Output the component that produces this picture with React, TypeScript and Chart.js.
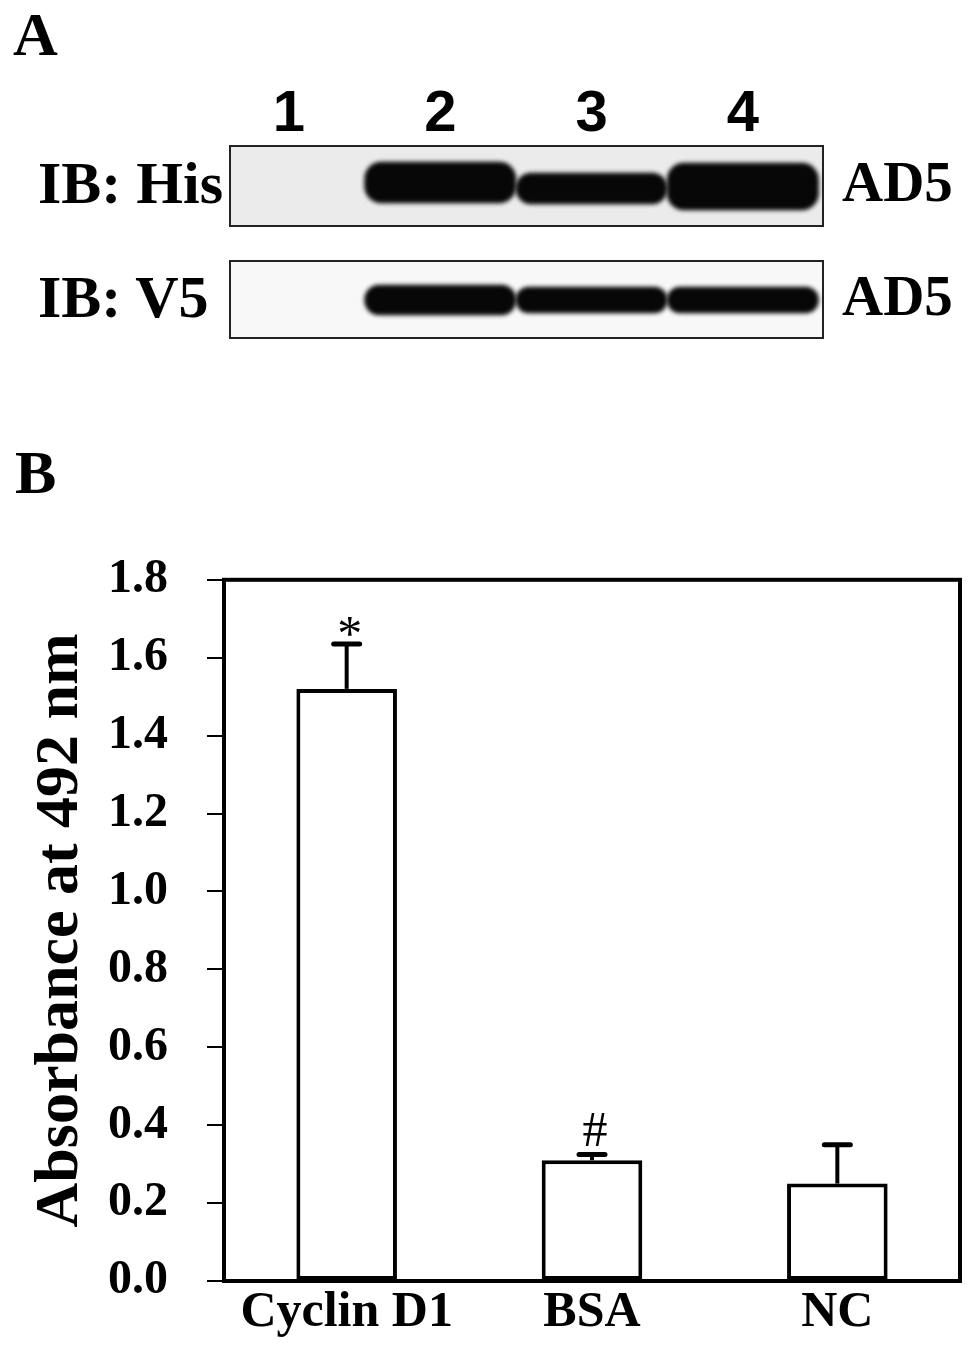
import React, { useEffect, useRef } from "react";
import { Chart, registerables } from "chart.js";

Chart.register(...registerables);

// ---------- Panel B data ----------
const categories = ["Cyclin D1", "BSA", "NC"];
const absorbance = [1.52, 0.31, 0.25];
const absorbanceErr = [0.115, 0.015, 0.1];
const significance = ["*", "#", ""];
const yTickValues = [0, 0.2, 0.4, 0.6, 0.8, 1.0, 1.2, 1.4, 1.6, 1.8];

// ---------- Panel A data (band extents per lane, arbitrary units from box bottom) ----------
const lanes = [1, 2, 3, 4];
const hisBands: (number[] | null)[] = [null, [23, 64], [22, 53], [16, 63]];
const v5Bands: (number[] | null)[] = [null, [23, 53], [25, 51], [25, 51]];

const SERIF = "'Liberation Serif', 'Times New Roman', serif";
const SANS = "'Liberation Sans', Arial, sans-serif";

function blotConfig(
  bands: (number[] | null)[],
  bg: string,
  showLanes: boolean,
  yMax: number,
  padTop: number,
  padBottom: number,
  axisHeight: number
): any {
  const data = lanes
    .map((l, i) => ({ x: l, y: bands[i] }))
    .filter((d) => d.y !== null);
  return {
    type: "bar",
    data: {
      datasets: [
        {
          data,
          backgroundColor: "#070707",
          borderWidth: 0,
          borderRadius: 17,
          borderSkipped: false,
          barPercentage: 1,
          categoryPercentage: 1,
        },
      ],
    },
    options: {
      animation: false,
      responsive: false,
      layout: { padding: { left: 230, right: 146, top: padTop, bottom: padBottom } },
      plugins: {
        legend: { display: false },
        tooltip: { enabled: false },
      },
      scales: {
        x: {
          type: "linear",
          position: "top",
          display: showLanes,
          offset: false,
          min: 0.61,
          max: 4.53,
          grid: { display: false, drawTicks: false, offset: false },
          border: { display: false },
          afterBuildTicks: (s: any) => {
            s.ticks = lanes.map((v) => ({ value: v }));
          },
          afterFit: (s: any) => {
            s.height = axisHeight;
          },
          ticks: {
            autoSkip: false,
            maxRotation: 0,
            color: "#000",
            padding: 2,
            font: { family: SANS, size: 58, weight: "bold", lineHeight: 1 },
            callback: (v: any) => String(v),
          },
        },
        y: { display: false, min: 0, max: yMax },
      },
    },
    plugins: [
      {
        id: "blotBox",
        beforeDraw(chart: any) {
          const { ctx, chartArea: a } = chart;
          ctx.save();
          ctx.fillStyle = bg;
          ctx.fillRect(a.left, a.top, a.right - a.left, a.bottom - a.top);
          ctx.restore();
        },
        beforeDatasetsDraw(chart: any) {
          chart.ctx.save();
          chart.ctx.filter = "blur(2px)";
        },
        afterDatasetsDraw(chart: any) {
          chart.ctx.restore();
        },
        afterDraw(chart: any) {
          const { ctx, chartArea: a } = chart;
          ctx.save();
          ctx.strokeStyle = "#222";
          ctx.lineWidth = 2;
          ctx.strokeRect(a.left, a.top, a.right - a.left, a.bottom - a.top);
          ctx.restore();
        },
      },
    ],
  };
}

function barConfig(): any {
  return {
    type: "bar",
    data: {
      labels: categories,
      datasets: [
        {
          data: absorbance,
          backgroundColor: "#ffffff",
          borderColor: "#000000",
          borderWidth: 4,
          borderSkipped: false,
          barPercentage: 0.41,
          categoryPercentage: 1,
        },
      ],
    },
    options: {
      animation: false,
      responsive: false,
      layout: { padding: { top: 20, right: 9, left: 0, bottom: 0 } },
      plugins: {
        legend: { display: false },
        tooltip: { enabled: false },
      },
      scales: {
        x: {
          offset: true,
          grid: { display: false, drawTicks: false },
          border: { display: false },
          afterFit: (s: any) => {
            s.height = 74;
          },
          ticks: {
            color: "#000",
            padding: 2,
            maxRotation: 0,
            autoSkip: false,
            font: { family: SERIF, size: 50, weight: "bold" },
          },
        },
        y: {
          min: 0,
          max: 1.8,
          afterBuildTicks: (s: any) => {
            s.ticks = yTickValues.map((v) => ({ value: v }));
          },
          afterFit: (s: any) => {
            s.width = 224;
          },
          grid: {
            drawOnChartArea: false,
            drawTicks: true,
            tickLength: 17,
            color: "#000",
            lineWidth: 2,
          },
          border: { display: false },
          ticks: {
            color: "#000",
            padding: 39,
            autoSkip: false,
            font: { family: SERIF, size: 48, weight: "bold" },
            callback: (v: any) => Number(v).toFixed(1),
          },
          title: {
            display: true,
            text: "Absorbance at 492 nm",
            color: "#000",
            font: { family: SERIF, size: 62, weight: "bold" },
            padding: { top: 24, bottom: 0 },
          },
        },
      },
    },
    plugins: [
      {
        id: "errorsAndFrame",
        afterDatasetsDraw(chart: any) {
          const { ctx, chartArea: a } = chart;
          const y = chart.scales.y;
          const meta = chart.getDatasetMeta(0);
          ctx.save();
          ctx.strokeStyle = "#000";
          ctx.fillStyle = "#000";
          meta.data.forEach((bar: any, i: number) => {
            const x = bar.x;
            const yTop = y.getPixelForValue(absorbance[i]);
            const yErr = y.getPixelForValue(absorbance[i] + absorbanceErr[i]);
            ctx.lineWidth = 4;
            ctx.lineCap = "butt";
            ctx.beginPath();
            ctx.moveTo(x, yTop);
            ctx.lineTo(x, yErr);
            ctx.stroke();
            ctx.lineCap = "round";
            ctx.lineWidth = 5;
            ctx.beginPath();
            ctx.moveTo(x - 13, yErr);
            ctx.lineTo(x + 13, yErr);
            ctx.stroke();
            const mark = significance[i];
            if (mark) {
              ctx.font = `50px ${SERIF}`;
              ctx.textAlign = "center";
              ctx.textBaseline = "alphabetic";
              const m = ctx.measureText(mark);
              ctx.fillText(mark, x + 3, yErr - 8 - m.actualBoundingBoxDescent);
            }
          });
          ctx.lineWidth = 4;
          ctx.lineCap = "butt";
          ctx.strokeRect(a.left, a.top, a.right - a.left, a.bottom - a.top);
          ctx.restore();
        },
      },
    ],
  };
}

function ChartCanvas({ config, top, height }: { config: () => any; top: number; height: number }) {
  const ref = useRef<HTMLCanvasElement | null>(null);
  useEffect(() => {
    if (!ref.current) return;
    const chart = new Chart(ref.current, config());
    return () => chart.destroy();
  }, []);
  return (
    <canvas
      ref={ref}
      width={969}
      height={height}
      style={{ position: "absolute", left: 0, top, width: 969, height, display: "block" }}
    />
  );
}

const label = (text: string, left: number, top: number, size: number): React.ReactNode => (
  <div
    style={{
      position: "absolute",
      left,
      top,
      fontFamily: SERIF,
      fontWeight: "bold",
      fontSize: size,
      lineHeight: 1,
      whiteSpace: "nowrap",
      color: "#000",
    }}
  >
    {text}
  </div>
);

export default function App() {
  return (
    <div
      style={{
        position: "absolute",
        left: 0,
        top: 0,
        width: 969,
        height: 1355,
        background: "#fff",
        overflow: "hidden",
      }}
    >
      {label("A", 13, 3, 62)}
      <ChartCanvas
        config={() => blotConfig(hisBands, "#ebebeb", true, 80, 0, 4, 86)}
        top={60}
        height={170}
      />
      <ChartCanvas
        config={() => blotConfig(v5Bands, "#f8f8f8", false, 77, 11, 7, 0)}
        top={250}
        height={95}
      />
      {label("IB: His", 38, 153, 60)}
      {label("AD5", 842, 153, 57)}
      {label("IB: V5", 38, 267, 60)}
      {label("AD5", 842, 267, 57)}
      {label("B", 15, 441, 62)}
      <ChartCanvas config={barConfig} top={512} height={843} />
    </div>
  );
}
